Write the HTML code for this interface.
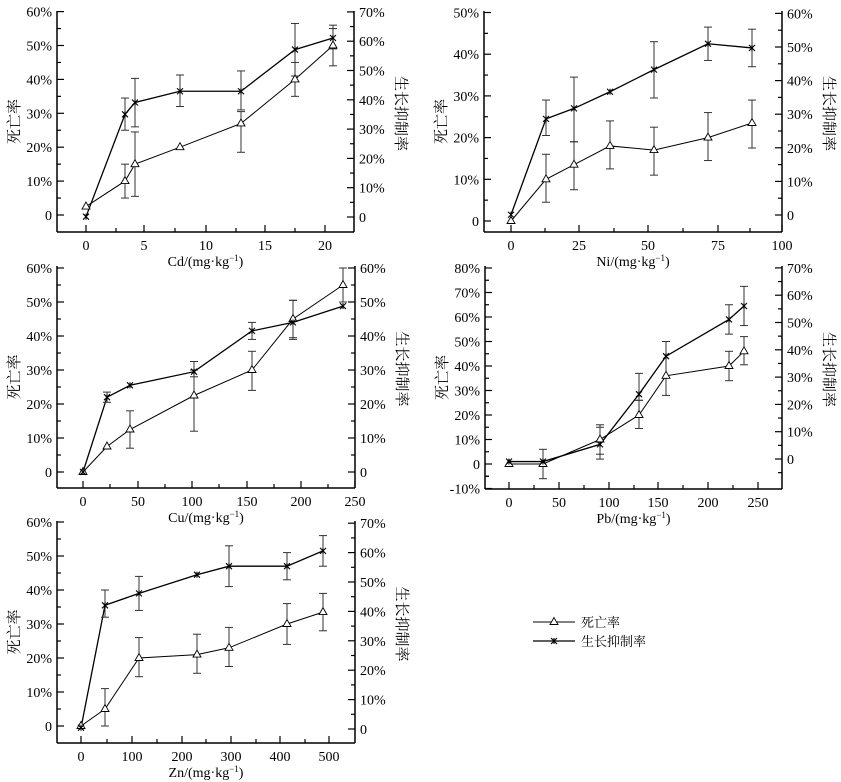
<!DOCTYPE html>
<html><head><meta charset="utf-8"><style>
html,body{margin:0;padding:0;background:#fff;}
svg{display:block;}
text{font-family:"Liberation Serif","Noto Serif CJK SC",serif;}
</style></head><body>
<svg id="s" width="841" height="782" xmlns="http://www.w3.org/2000/svg"></svg>
<script>
const S=document.getElementById('s');let h='';
function L(x1,y1,x2,y2,w,c){h+=`<line x1="${x1}" y1="${y1}" x2="${x2}" y2="${y2}" stroke="${c||'#000'}" stroke-width="${w||1}"/>`;}
function T(x,y,t,a,sz,rot){h+=`<text font-family="Liberation Serif, Noto Serif CJK SC, serif" x="${x}" y="${y}" font-size="${sz||14}" text-anchor="${a||'middle'}"${rot?` transform="rotate(${rot} ${x} ${y})"`:''}>${t}</text>`;}
function tri(x,y){h+=`<polygon points="${x},${y-4.5} ${x-4},${y+2.5} ${x+4},${y+2.5}" fill="#fff" stroke="#000" stroke-width="0.9"/>`;}
function star(x,y){L(x-3,y-3,x+3,y+3,1.1);L(x-3,y+3,x+3,y-3,1.1);L(x,y-3,x,y+3,1.1);}
function panel(p){
 const {l,r,top,bot,y0,ys,yl,ry0,rys,rl,xt,xm,xlab,tp,sp}=p;
 L(l,top,l,bot,1.5);L(r,top,r,bot,1.5);L(l,bot,r,bot,1.5);
 yl.forEach((v,i)=>{const y=y0-v*ys;L(l,y,l+7,y,1.2);T(l-5,y+5,v==0?'0':v+'%','end');
   const ym=y-5*ys; if(ym>top-1&&i<yl.length-1) L(l,ym,l+4,ym,1.2);});
 if(y0+5*ys<bot-1) L(l,y0+5*ys,l+4,y0+5*ys,1.2);
 rl.forEach((v,i)=>{const y=ry0-v*rys;L(r-7,y,r,y,1.2);T(r+5,y+5,v==0?'0':v+'%','start');
   const ym=y-5*rys; if(ym>top-1&&i<rl.length-1) L(r-4,ym,r,ym,1.2);});
 if(ry0+5*rys<bot-1) L(r-4,ry0+5*rys,r,ry0+5*rys,1.2);
 xt.forEach(([x,t])=>{L(x,bot,x,bot-7,1.2);T(x,bot+18,t);});
 xm.forEach(x=>L(x,bot,x,bot-4,1.2));
 T((l+r)/2,bot+34,xlab);
 T(l-38,(top+bot)/2,'死亡率','middle',15,-90);
 T(r+42,(top+bot)/2-8,'生长抑制率','middle',15,90);
 const py=v=>y0-v*ys;
 h+=`<polyline fill="none" stroke="#000" stroke-width="1" points="${tp.map(d=>d[0]+','+py(d[1])).join(' ')}"/>`;
 h+=`<polyline fill="none" stroke="#000" stroke-width="1.3" points="${sp.map(d=>d[0]+','+py(d[1])).join(' ')}"/>`;
 [tp,sp].forEach(arr=>arr.forEach(d=>{if(d[2]!==undefined){const a=py(d[2]),b=py(d[3]);L(d[0],a,d[0],b,1,'#333');L(d[0]-4,a,d[0]+4,a,1,'#333');L(d[0]-4,b,d[0]+4,b,1,'#333');}}));
 tp.forEach(d=>tri(d[0],py(d[1])));sp.forEach(d=>star(d[0],py(d[1])));
}
const kg='(mg·kg<tspan dy="-5" font-size="9">−1</tspan><tspan dy="5">)</tspan>';
panel({l:57,r:354,top:11,bot:232,y0:215,ys:3.39,yl:[0,10,20,30,40,50,60],ry0:217,rys:2.93,rl:[0,10,20,30,40,50,60,70],
 xt:[[86,'0'],[144,'5'],[206,'10'],[265,'15'],[325,'20']],xm:[116,175,236,295],xlab:'Cd/'+kg,
 tp:[[86,2.5],[125,10,5,15],[135,15,5.5,24.5],[180,20],[241,27,18.5,30.5],[295,40,35,45],[333,50,44,55]],
 sp:[[86,-0.5],[125,29.7,25,34.5],[135,33.2,26,40.3],[180,36.5,32,41.3],[241,36.5,31,42.5],[295,48.8,41,56.5],[333,52.2,49,56]]});
panel({l:484,r:782,top:11,bot:232,y0:221,ys:4.17,yl:[0,10,20,30,40,50],ry0:215,rys:3.36,rl:[0,10,20,30,40,50,60],
 xt:[[511,'0'],[579,'25'],[648,'50'],[718,'75'],[782,'100']],xm:[545,614,683,750],xlab:'Ni/'+kg,
 tp:[[511,0],[546,10,4.5,16],[574,13.5,7.5,19],[610,18,12.5,24],[654,17,11,22.5],[708,20,14.5,26],[752,23.5,17.5,29]],
 sp:[[511,1.5],[546,24.5,20.5,29],[574,27,19,34.5],[610,31],[654,36.3,29.5,43],[708,42.5,38.5,46.5],[752,41.5,37,46]]});
panel({l:57,r:355,top:266,bot:488,y0:472,ys:3.4,yl:[0,10,20,30,40,50,60],ry0:472,rys:3.4,rl:[0,10,20,30,40,50,60],
 xt:[[83,'0'],[138,'50'],[192,'100'],[247,'150'],[301,'200'],[355,'250']],xm:[110,165,219,274,328],xlab:'Cu/'+kg,
 tp:[[83,0],[107,7.5],[130,12.5,7,18],[194,22.5,12,32.5],[252,30,24,35.5],[293,45,39,50.5],[343,55,50,60]],
 sp:[[83,0],[107,22,20.5,23.5],[130,25.5],[194,29.5,28,30],[252,41.5,39,44],[293,44,39.5,50.5],[343,48.8]]});
panel({l:485,r:782,top:266,bot:489,y0:464,ys:2.45,yl:[-10,0,10,20,30,40,50,60,70,80],ry0:459,rys:2.73,rl:[0,10,20,30,40,50,60,70],
 xt:[[509,'0'],[559,'50'],[609,'100'],[658,'150'],[708,'200'],[758,'250']],xm:[534,584,634,683,733],xlab:'Pb/'+kg,
 tp:[[509,0],[543,0,-6,6],[600,10,2,16],[639,20,14.5,26],[666,36,28,50],[729,40,34,46],[744,46,40.5,52]],
 sp:[[509,1],[543,1],[600,8,4,15],[639,28.5,26,37],[666,44],[729,59,53,65],[744,64.5,56.5,72.5]]});
panel({l:57,r:355,top:521,bot:743,y0:726,ys:3.4,yl:[0,10,20,30,40,50,60],ry0:729,rys:2.94,rl:[0,10,20,30,40,50,60,70],
 xt:[[81,'0'],[132,'100'],[182,'200'],[231,'300'],[280,'400'],[329,'500']],xm:[107,157,206,256,305],xlab:'Zn/'+kg,
 tp:[[81,0],[105,5,0,11],[139,20,14.5,26],[197,21,15.5,27],[229,23,17.5,29],[287,30,24,36],[323,33.5,28,39]],
 sp:[[81,-0.5],[105,35.5,32,40],[139,39,34,44],[197,44.5],[229,47,41,53],[287,47,43,51],[323,51.5,47,56]]});
L(533,622,575,622,1);tri(554,622);T(581,627,'死亡率','start',13);
L(533,641,575,641,1.3);star(554,641);T(581,646,'生长抑制率','start',13);
S.innerHTML=h;
</script>
</body></html>
